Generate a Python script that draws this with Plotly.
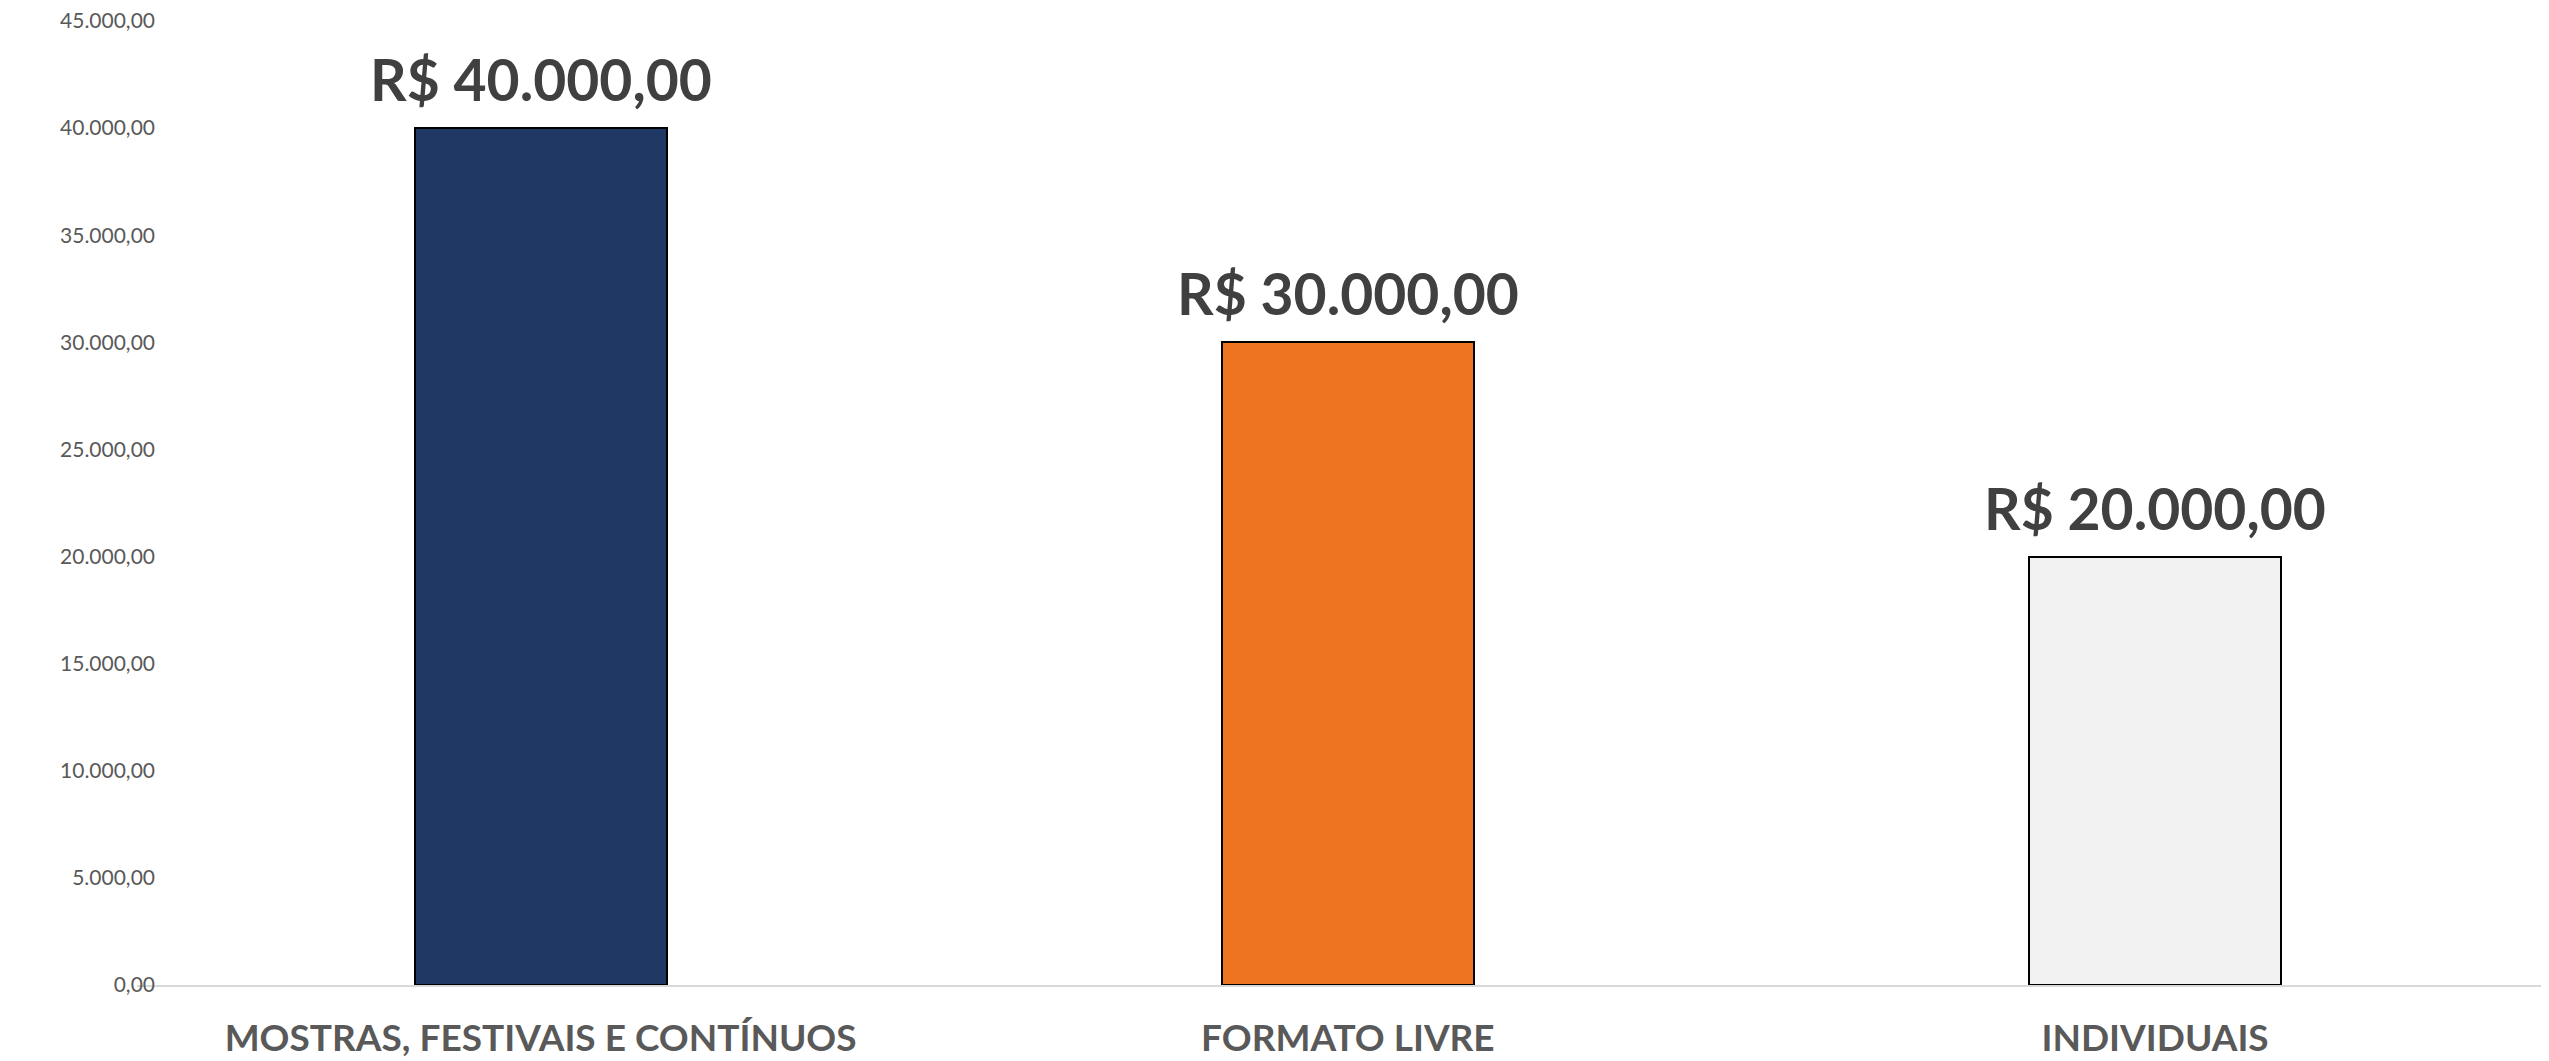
import plotly.graph_objects as go

categories = ["MOSTRAS, FESTIVAIS E CONTÍNUOS", "FORMATO LIVRE", "INDIVIDUAIS"]
values = [40000, 30000, 20000]
bar_colors = ["#203864", "#ED7421", "#F2F2F2"]
y_ticks = [0, 5000, 10000, 15000, 20000, 25000, 30000, 35000, 40000, 45000]


def brl(v):
    s = f"{v:,.2f}"
    s = s.replace(",", "X").replace(".", ",").replace("X", ".")
    return "R$ " + s


fig = go.Figure()
fig.add_trace(go.Bar(
    x=categories,
    y=values,
    marker=dict(color=bar_colors, line=dict(color="#000000", width=2)),
    width=0.312,
    hoverinfo="skip",
))

for c, v in zip(categories, values):
    fig.add_annotation(
        x=c, y=v, text=brl(v), showarrow=False,
        yanchor="bottom", yshift=13,
        font=dict(family="Lato", size=57, color="#404040", weight="bold"),
    )

# page body has an 8px default margin, so the figure is 8px smaller
fig.update_layout(
    width=2541, height=1053,
    margin=dict(l=129, r=0, t=13, b=76),
    paper_bgcolor="white", plot_bgcolor="white",
    separators=",.",
    showlegend=False,
    bargap=0,
)
fig.update_xaxes(
    range=[-0.5, 2.488],
    showline=True, linecolor="#D9D9D9", linewidth=2,
    showgrid=False, ticks="", automargin=False,
    tickfont=dict(family="Lato", size=37, color="#595959", weight="bold"),
    ticklabelstandoff=20,
)
fig.update_yaxes(
    range=[0, 45000], tickvals=y_ticks, tickformat=",.2f",
    showgrid=False, zeroline=False, showline=False, ticks="", automargin=False,
    tickfont=dict(family="Lato", size=21, color="#595959"),
    ticklabelstandoff=-19, ticklabeloverflow="allow",
)

fig.write_html("out.html")
